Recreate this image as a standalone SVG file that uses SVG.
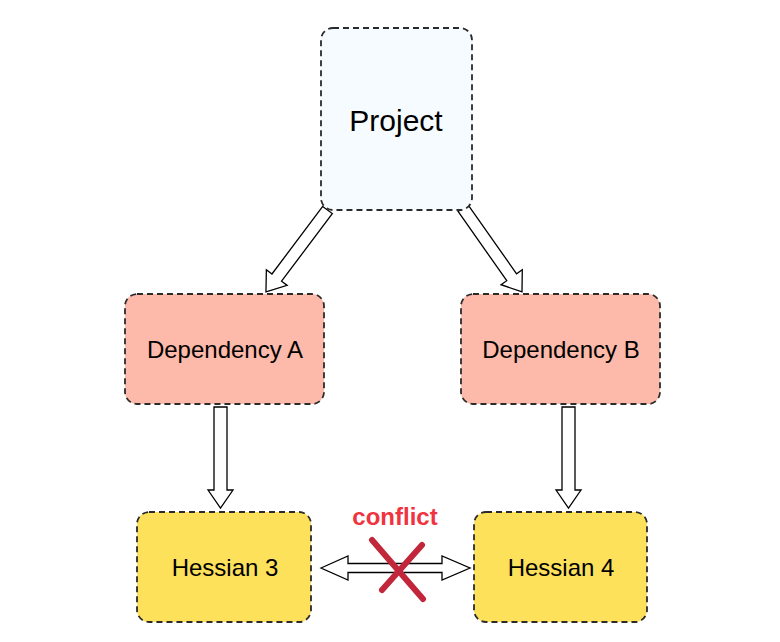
<svg xmlns="http://www.w3.org/2000/svg" width="780" height="642" viewBox="0 0 780 642">
<style>
.node rect{stroke:#2b2b2b;stroke-width:1.8;stroke-dasharray:6 4}
.proj rect{fill:#f5fbfe}
.dep rect{fill:#fdb9a9}
.hes rect{fill:#fde15a}
.node text{font-family:"Liberation Sans",Arial,sans-serif;fill:#000;text-anchor:middle}
.arrow{fill:#fff;stroke:#000;stroke-width:1.3;stroke-linejoin:miter}
</style>
<rect width="780" height="642" fill="#fff"/>
<g id="connectors">
<path class="arrow" transform="translate(327.5,210) rotate(36.9)" d="M-6,0 L6,0 L6,84.5 L13,84.5 L0,102.5 L-13,84.5 L-6,84.5 Z"/>
<path class="arrow" transform="translate(463,208) rotate(-35.1)" d="M-6,0 L6,0 L6,84.6 L13,84.6 L0,102.6 L-13,84.6 L-6,84.6 Z"/>
<path class="arrow" d="M214,407 L227,407 L227,490 L233,490 L220.5,508 L208,490 L214,490 Z"/>
<path class="arrow" d="M562,407 L575,407 L575,490 L581,490 L568.5,508 L556,490 L562,490 Z"/>
<path class="arrow" d="M321,568 L348,556 L348,563.5 L442,563.5 L442,556 L470,568 L442,580 L442,572.5 L348,572.5 L348,580 Z"/>
<g stroke="#c1263a" stroke-width="6" stroke-linecap="round">
<line x1="372" y1="540" x2="423" y2="599"/>
<line x1="422" y1="545" x2="382" y2="590"/>
</g>
<text x="395" y="525" font-family="'Liberation Sans',Arial,sans-serif" font-weight="bold" font-size="24" fill="#ef3340" text-anchor="middle">conflict</text>
</g>
<g id="project" class="node proj">
<rect x="321" y="28" width="151" height="182" rx="12"/>
<text x="396" y="131" font-size="30">Project</text>
</g>
<g id="depA" class="node dep">
<rect x="125" y="294" width="199" height="110" rx="12"/>
<text x="225" y="358" font-size="24">Dependency A</text>
</g>
<g id="depB" class="node dep">
<rect x="461" y="294" width="199" height="110" rx="12"/>
<text x="561" y="358" font-size="24">Dependency B</text>
</g>
<g id="hessian3" class="node hes">
<rect x="137" y="512" width="174" height="110" rx="12"/>
<text x="225" y="576" font-size="24">Hessian 3</text>
</g>
<g id="hessian4" class="node hes">
<rect x="474" y="512" width="173" height="110" rx="12"/>
<text x="561" y="576" font-size="24">Hessian 4</text>
</g>
</svg>
